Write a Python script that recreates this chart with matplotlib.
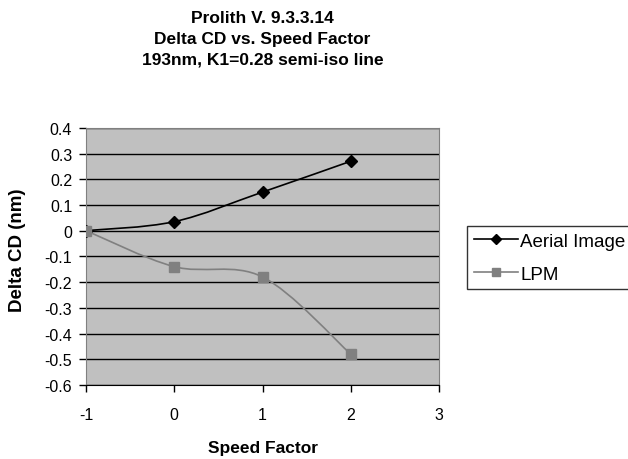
import matplotlib.pyplot as plt
import numpy as np
from matplotlib.path import Path
from matplotlib.patches import PathPatch
from matplotlib.lines import Line2D

plt.rcParams['font.family'] = ['Liberation Sans', 'DejaVu Sans']
plt.rcParams['axes.unicode_minus'] = False

speed = [-1, 0, 1, 2]
aerial = [0.0, 0.035, 0.15, 0.27]
lpm = [0.0, -0.14, -0.18, -0.48]
yticks = np.round(np.arange(-0.6, 0.41, 0.1), 1)
xticks = [-1, 0, 1, 2, 3]


def smooth_path(x, y):
    # Excel-like smoothed line: cubic bezier segments (Catmull-Rom style)
    pts = np.column_stack([x, y]).astype(float)
    n = len(pts)
    verts = [pts[0]]
    codes = [Path.MOVETO]
    for i in range(n - 1):
        p0 = pts[i - 1] if i > 0 else pts[i]
        p1 = pts[i]
        p2 = pts[i + 1]
        p3 = pts[i + 2] if i + 2 < n else pts[i + 1]
        c1 = p1 + (p2 - p0) / 6
        c2 = p2 - (p3 - p1) / 6
        verts += [c1, c2, p2]
        codes += [Path.CURVE4] * 3
    return Path(verts, codes)


fig = plt.figure(figsize=(6.28, 4.6), dpi=100)
ax = fig.add_axes([0.137, 0.161, 0.562, 0.559])
ax.set_facecolor('#C0C0C0')

for ys, col, mk, ms in [(aerial, 'black', 'D', 6), (lpm, '#808080', 's', 6.5)]:
    ax.add_patch(PathPatch(smooth_path(speed, ys), facecolor='none',
                           edgecolor=col, lw=1.2, zorder=3))
    ax.plot(speed, ys, linestyle='none', marker=mk, color=col, ms=ms, zorder=4)

ax.set_xlim(-1, 3)
ax.set_ylim(-0.6, 0.4)
ax.set_xticks(xticks)
ax.set_yticks(yticks)
ax.set_yticklabels(['0' if v == 0 else '%g' % v for v in yticks])
ax.yaxis.grid(True, color='black', lw=1)
ax.set_axisbelow(True)
ax.tick_params(direction='out', length=5, labelsize=11.5, width=1)
ax.tick_params(axis='x', pad=11)
ax.tick_params(axis='y', pad=5)

for s in ['top', 'right']:
    ax.spines[s].set_color('#808080')
ax.spines['left'].set_color('#808080')
ax.spines['bottom'].set_color('black')

ax.set_xlabel('Speed Factor', fontsize=12.5, fontweight='bold', labelpad=13)
ax.set_ylabel('Delta CD (nm)', fontsize=13.5, fontweight='bold')
ax.yaxis.set_label_coords(-0.17, 0.529)
ax.set_title('Prolith V. 9.3.3.14\nDelta CD vs. Speed Factor\n193nm, K1=0.28 semi-iso line',
             fontsize=12.5, fontweight='bold', linespacing=1.5, pad=46)

handles = [Line2D([], [], color='black', marker='D', ms=5, lw=1.2),
           Line2D([], [], color='#808080', marker='s', ms=5.5, lw=1.2)]
leg = fig.legend(handles, ['Aerial Image', 'LPM'], loc='upper left',
                 bbox_to_anchor=(467 / 628, 1 - 227 / 460), fontsize=13.5,
                 frameon=True, fancybox=False, handlelength=2.35,
                 borderaxespad=0, borderpad=0.35, handletextpad=0.15,
                 labelspacing=0.85)
leg.get_frame().set_edgecolor('black')
leg.get_frame().set_linewidth(1)

fig.savefig('out.png', dpi=100)
